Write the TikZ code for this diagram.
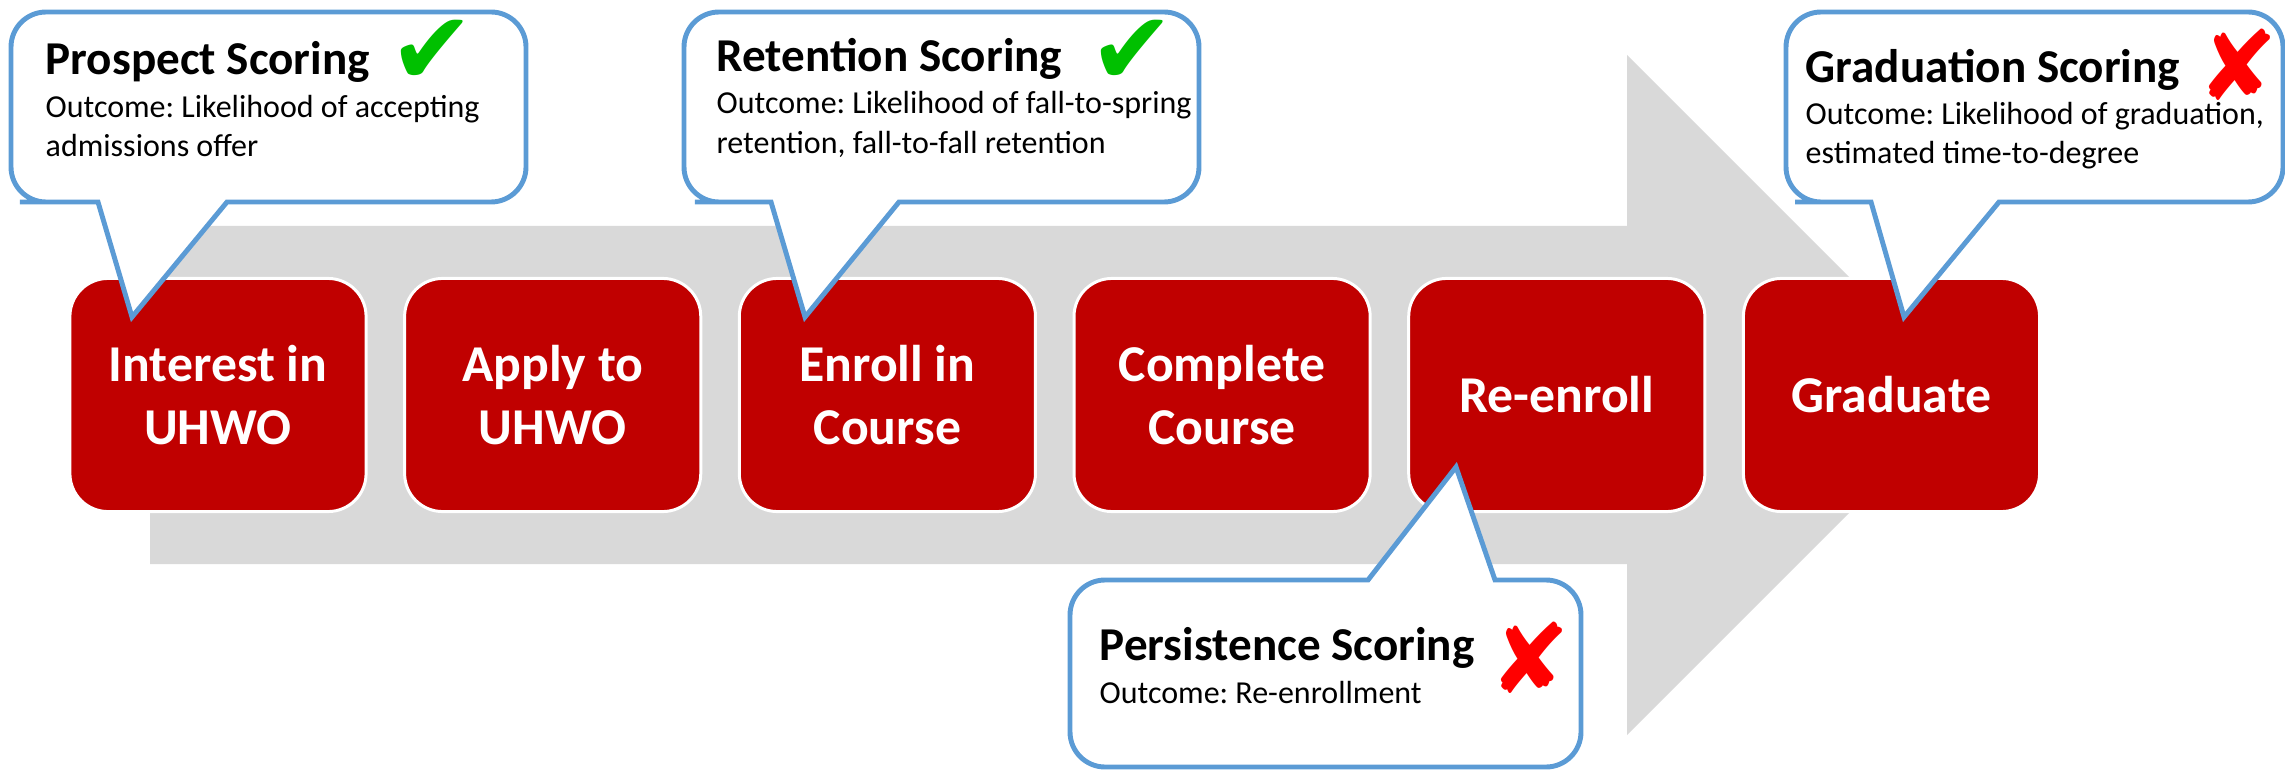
\documentclass[tikz,border=0pt]{standalone}
\usepackage{fontspec}
\setmainfont{Carlito}
\newfontfamily\symbolfont{DejaVu Sans}
\usetikzlibrary{positioning}
\frenchspacing
\definecolor{arrowgray}{RGB}{217,217,217}
\definecolor{boxred}{RGB}{192,0,0}
\definecolor{calloutblue}{RGB}{91,155,213}
\definecolor{tickgreen}{RGB}{0,192,0}
\definecolor{crossred}{RGB}{255,0,0}
\tikzset{
      stage/.style={draw=white, line width=0.85pt, fill=boxred, text=white, rounded corners=0.38cm,
            minimum width=2.96cm, minimum height=2.33cm, outer sep=0pt, inner sep=0pt, align=center,
            font=\fontsize{14.7pt}{17.9pt}\selectfont\bfseries},
      callout/.style={draw=calloutblue, fill=white, line width=1.4pt, line join=miter},
      title/.style={anchor=base west, inner sep=0pt, font=\fontsize{13.4pt}{15pt}\selectfont\bfseries},
      outcome/.style={anchor=base west, inner sep=0pt, align=left, font=\fontsize{9.1pt}{11.1pt}\selectfont},
      tick/.style={inner sep=0pt, text=tickgreen, font=\fontsize{29pt}{29pt}\symbolfont},
      cross/.style={inner sep=0pt, text=crossred, font=\fontsize{27.5pt}{27.5pt}\symbolfont},
}
\begin{document}
\begin{tikzpicture}[x=0.01cm, y=-0.01cm, node distance=0.385cm]

        \useasboundingbox (0,0) rectangle (2285,770);

        % big arrow behind the steps
        \fill[arrowgray] (150,226) -- (1627,226) -- (1627,55) -- (1967,395) -- (1627,735) -- (1627,564) -- (150,564) -- cycle;

        \node[stage] (interest) at (218,395) {Interest in\\UHWO};
        \node[stage, right=of interest] (apply) {Apply to\\UHWO};
        \node[stage, right=of apply] (enroll) {Enroll in\\Course};
        \node[stage, right=of enroll] (complete) {Complete\\Course};
        \node[stage, right=of complete] (reenroll) {Re-enroll};
        \node[stage, right=of reenroll] (graduate) {Graduate};

        % callouts (outcome nodes sit on the baseline of their last line)
        \draw[callout] (132,317) -- (227,202) -- (400,202) [rounded corners=0.35cm] -- (526,202) -- (526,12) -- (11,12) -- (11,202) -- (55,202) [sharp corners] -- (98,202) -- cycle;
        \node[title] (prospect) at (45,75) {Prospect Scoring};
        \node[outcome] (prospectout) at (45,157) {Outcome: Likelihood of accepting\\admissions offer};
        \node[tick] (prospectmark) at (432,52) {✔};

        \draw[callout] (805,317) -- (899,202) -- (1100,202) [rounded corners=0.35cm] -- (1199,202) -- (1199,12) -- (684,12) -- (684,202) -- (730,202) [sharp corners] -- (771,202) -- cycle;
        \node[title] (retention) at (716,72) {Retention Scoring};
        \node[outcome] (retentionout) at (716,153) {Outcome: Likelihood of fall-to-spring\\retention, fall-to-fall retention};
        \node[tick] (retentionmark) at (1132,52) {✔};

        \draw[callout] (1904,317) -- (1999,202) -- (2150,202) [rounded corners=0.35cm] -- (2283,202) -- (2283,12) -- (1786,12) -- (1786,202) -- (1830,202) [sharp corners] -- (1871,202) -- cycle;
        \node[title] (graduation) at (1805,83) {Graduation Scoring};
        \node[outcome] (graduationout) at (1805,164) {Outcome: Likelihood of graduation,\\estimated time-to-degree};
        \node[cross] (graduationmark) at (2238,65) {✘};

        \draw[callout] (1456,467) -- (1495,580) -- (1540,580) [rounded corners=0.35cm] -- (1581,580) -- (1581,767) -- (1070,767) -- (1070,580) -- (1320,580) [sharp corners] -- (1368,580) -- cycle;
        \node[title] (persistence) at (1099,660) {Persistence Scoring};
        \node[outcome] (persistenceout) at (1099,703) {Outcome: Re-enrollment};
        \node[cross] (persistencemark) at (1530,658) {✘};

\end{tikzpicture}
\end{document}
